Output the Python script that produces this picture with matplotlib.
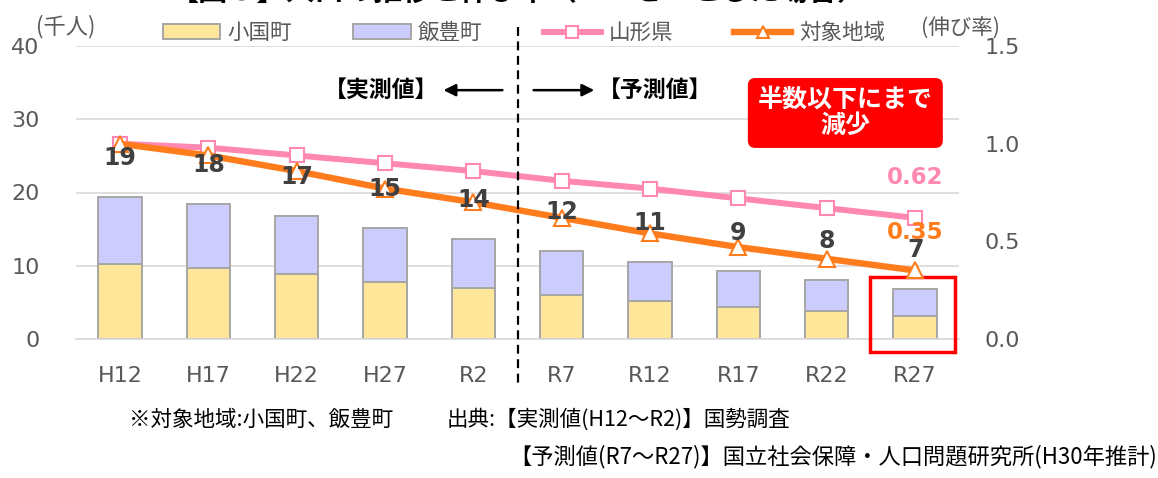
import matplotlib
matplotlib.use('Agg')
import matplotlib.pyplot as plt
from matplotlib.patches import Rectangle
from matplotlib.lines import Line2D
from matplotlib.patches import Patch
import numpy as np

plt.rcParams['font.family'] = ['DejaVu Sans', 'Noto Sans CJK JP']
JP = ['Noto Sans CJK JP', 'DejaVu Sans']

# data (thousand persons / growth ratio, H12 = 1)
years = ['H12', 'H17', 'H22', 'H27', 'R2', 'R7', 'R12', 'R17', 'R22', 'R27']
oguni = [10.2, 9.7, 8.9, 7.8, 7.0, 6.0, 5.2, 4.4, 3.8, 3.1]
iide = [9.2, 8.7, 7.9, 7.4, 6.7, 6.0, 5.3, 4.8, 4.2, 3.7]
total_labels = [19, 18, 17, 15, 14, 12, 11, 9, 8, 7]
yamagata = [1.00, 0.98, 0.94, 0.90, 0.86, 0.81, 0.77, 0.72, 0.67, 0.62]
target = [1.00, 0.94, 0.86, 0.77, 0.70, 0.62, 0.54, 0.47, 0.41, 0.35]

c_yellow = '#ffe699'
c_purple = '#ccccff'
c_edge = '#a6a6a6'
c_pink = '#ff88b2'
c_orange = '#ff7c1c'
c_tick = '#595959'
c_grid = '#d9d9d9'

W, H = 1158, 478
fig = plt.figure(figsize=(W / 100, H / 100), dpi=100)
ax = fig.add_axes([75.8 / W, 1 - 338.7 / H, 883.5 / W, 292.4 / H])
ax2 = ax.twinx()

x = np.arange(len(years))
total = np.array(oguni) + np.array(iide)

# stacked bars
ax.bar(x, oguni, width=0.49, color=c_yellow, edgecolor=c_edge, linewidth=1.4, zorder=2)
ax.bar(x, iide, bottom=oguni, width=0.49, color=c_purple, edgecolor=c_edge, linewidth=1.4, zorder=2)

ax.set_xlim(-0.5, 9.5)
ax.set_ylim(0, 40)
ax.set_yticks([0, 10, 20, 30, 40])
ax.yaxis.grid(True, color=c_grid, linewidth=1.2, zorder=0)
ax.set_axisbelow(True)
for s in ['top', 'left', 'right']:
    ax.spines[s].set_visible(False)
ax.spines['bottom'].set_color(c_grid)
ax.spines['bottom'].set_linewidth(1.2)
ax.set_xticks(x)
ax.set_xticklabels(years)
ax.tick_params(axis='x', length=0, pad=20, labelsize=16, labelcolor=c_tick)
ax.tick_params(axis='y', length=0, pad=26, labelsize=16, labelcolor=c_tick)

# ratio lines
ax2.plot(x, yamagata, color=c_pink, linewidth=4.3, marker='s', markersize=10.5,
         markerfacecolor='white', markeredgecolor=c_pink, markeredgewidth=1.5, zorder=3)
ax2.plot(x, target, color=c_orange, linewidth=4.6, marker='^', markersize=11.5,
         markerfacecolor='white', markeredgecolor=c_orange, markeredgewidth=1.5, zorder=4)
ax2.set_ylim(0, 1.5)
ax2.set_yticks([0.0, 0.5, 1.0, 1.5])
ax2.set_yticklabels(['0.0', '0.5', '1.0', '1.5'])
ax2.tick_params(axis='y', length=0, pad=18, labelsize=16, labelcolor=c_tick)
for s in ['top', 'left', 'right', 'bottom']:
    ax2.spines[s].set_visible(False)

# total labels
for i, lbl in enumerate(total_labels):
    ax2.annotate(str(lbl), xy=(i, total[i]), xycoords=ax.transData, xytext=(0, 28),
                 textcoords='offset points', ha='center', va='center',
                 fontsize=17, fontweight='bold', color='#404040', zorder=6)

ax2.annotate(f'{yamagata[-1]:.2f}', xy=(9, yamagata[-1]), xytext=(0, 29), textcoords='offset points',
             ha='center', va='center', fontsize=16.5, fontweight='bold', color=c_pink, zorder=6)
ax2.annotate(f'{target[-1]:.2f}', xy=(9, target[-1]), xytext=(0, 27), textcoords='offset points',
             ha='center', va='center', fontsize=16.5, fontweight='bold', color=c_orange, zorder=5)

# actual / projection divider
ax2.plot([4.5, 4.5], [1.066, -0.152], transform=ax2.get_xaxis_transform(), color='black',
         linewidth=1.6, linestyle=(0, (4, 2.5)), clip_on=False, zorder=7)
ax2.annotate('', xy=(3.63, 0.85), xytext=(4.36, 0.85), xycoords=ax2.get_xaxis_transform(),
             arrowprops=dict(arrowstyle='-|>', color='black', lw=1.8, mutation_scale=18))
ax2.annotate('', xy=(5.40, 0.85), xytext=(4.65, 0.85), xycoords=ax2.get_xaxis_transform(),
             arrowprops=dict(arrowstyle='-|>', color='black', lw=1.8, mutation_scale=18))
ax2.text(3.60, 0.85, '【実測値】', transform=ax2.get_xaxis_transform(), ha='right', va='center',
         fontsize=16.5, fontweight='bold', family=JP, color='black')
ax2.text(5.41, 0.85, '【予測値】', transform=ax2.get_xaxis_transform(), ha='left', va='center',
         fontsize=16.5, fontweight='bold', family=JP, color='black')

# callout
ax2.text(8.21, 0.772, '半数以下にまで\n減少', transform=ax2.get_xaxis_transform(), ha='center',
         va='center', fontsize=18, fontweight='bold', color='white', family=JP, linespacing=1.1,
         bbox=dict(boxstyle='round,pad=0.4,rounding_size=0.3', facecolor='#ff0000', edgecolor='none'),
         zorder=8)
ax.add_patch(Rectangle((8.49, -1.8), 0.96, 10.2, fill=False, edgecolor='#ff0000', linewidth=2.5,
                       clip_on=False, zorder=8))

# legend
handles = [
    Patch(facecolor=c_yellow, edgecolor=c_edge, linewidth=1.4),
    Patch(facecolor=c_purple, edgecolor=c_edge, linewidth=1.4),
    Line2D([], [], color=c_pink, linewidth=4.3, marker='s', markersize=9,
           markerfacecolor='white', markeredgecolor=c_pink, markeredgewidth=1.5),
    Line2D([], [], color=c_orange, linewidth=4.6, marker='^', markersize=9,
           markerfacecolor='white', markeredgecolor=c_orange, markeredgewidth=1.5),
]
labels = ['小国町', '飯豊町', '山形県', '対象地域']
fig.legend(handles, labels, loc='center', bbox_to_anchor=(524 / W, 1 - 33 / H), ncol=4,
           frameon=False, borderpad=0, handlelength=2.65, handleheight=0.65, handletextpad=0.35,
           columnspacing=2.85, labelcolor=c_tick, prop={'family': JP, 'size': 15.5})

# axis units
fig.text(36 / W, 1 - 27 / H, '(千人)', ha='left', va='center', fontsize=16, family=JP, color=c_tick)
fig.text(921 / W, 1 - 29 / H, '(伸び率)', ha='left', va='center', fontsize=15.5, family=JP, color=c_tick)

# title (cut off at the top edge in the original)
fig.text(170 / W, 1.0, '【図３】人口の推移と伸び率（H12を１とした場合）', ha='left', va='baseline',
         fontsize=21, fontweight='bold', family=JP, color='black')

# notes
fig.text(129 / W, 1 - 420 / H, '※対象地域:小国町、飯豊町', ha='left', va='center', fontsize=15.5,
         family=JP, color='black')
fig.text(447 / W, 1 - 420 / H, '出典:【実測値(H12～R2)】国勢調査', ha='left', va='center', fontsize=15.5,
         family=JP, color='black')
fig.text(1157 / W, 1 - 457 / H, '【予測値(R7～R27)】国立社会保障・人口問題研究所(H30年推計)', ha='right',
         va='center', fontsize=16, family=JP, color='black')

fig.savefig('out.png', dpi=100)
